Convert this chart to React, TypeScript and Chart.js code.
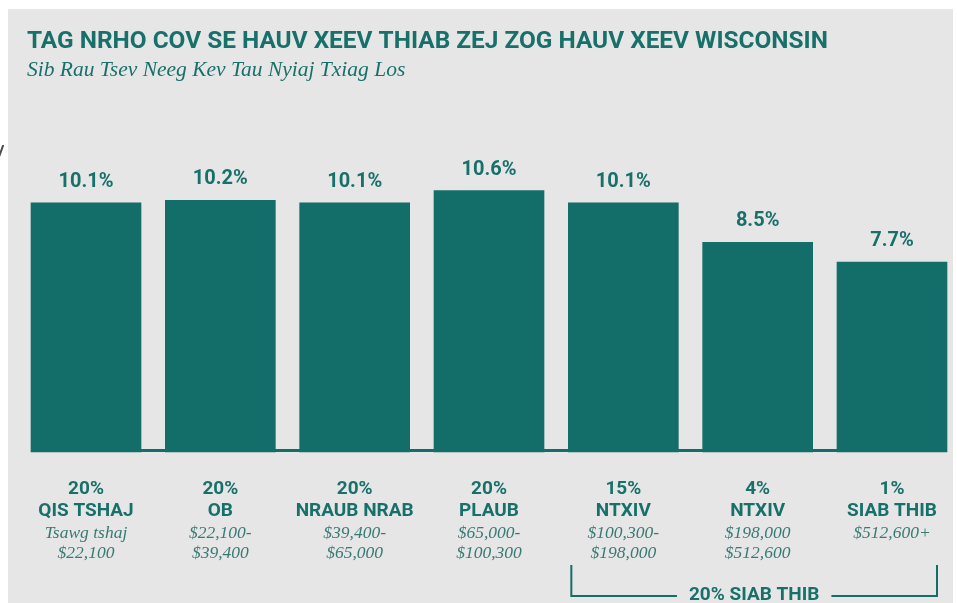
import React, { useEffect, useRef } from "react";
import { Chart, registerables } from "chart.js";

Chart.register(...registerables);

const values = [10.1, 10.2, 10.1, 10.6, 10.1, 8.5, 7.7];
const valueLabels = ["10.1%", "10.2%", "10.1%", "10.6%", "10.1%", "8.5%", "7.7%"];
const shares = ["20%", "20%", "20%", "20%", "15%", "4%", "1%"];
const groups = ["QIS TSHAJ", "OB", "NRAUB NRAB", "PLAUB", "NTXIV", "NTXIV", "SIAB THIB"];
const ranges = [
  ["Tsawg tshaj", "$22,100"],
  ["$22,100-", "$39,400"],
  ["$39,400-", "$65,000"],
  ["$65,000-", "$100,300"],
  ["$100,300-", "$198,000"],
  ["$198,000", "$512,600"],
  ["$512,600+"],
];
const titleText = "TAG NRHO COV SE HAUV XEEV THIAB ZEJ ZOG HAUV XEEV WISCONSIN";
const subtitleText = "Sib Rau Tsev Neeg Kev Tau Nyiaj Txiag Los";
const bracketText = "20% SIAB THIB";
const bracketFrom = 4;
const bracketTo = 6;

const W = 957;
const H = 603;
const BAR_W = 110;
const TEAL = "#136d68";
const TEXT_TEAL = "#17706a";
const SERIF_TEAL = "#3a7a75";
const BG = "#e6e6e6";

export default function App() {
  const ref = useRef<HTMLCanvasElement | null>(null);

  useEffect(() => {
    if (!ref.current) return;
    const deco = {
      id: "deco",
      beforeDraw(chart: any) {
        const ctx = chart.ctx;
        ctx.save();
        ctx.fillStyle = "#ffffff";
        ctx.fillRect(0, 0, W, H);
        ctx.fillStyle = BG;
        ctx.fillRect(8, 9, 945, H);
        ctx.fillStyle = "#4a4a4a";
        ctx.font = "24px 'Open Sans', sans-serif";
        ctx.textBaseline = "middle";
        ctx.textAlign = "left";
        ctx.fillText("V", -10, 155);
        ctx.fillStyle = "#ffffff";
        ctx.fillRect(4, 130, 4, 50);
        ctx.restore();
      },
      afterDatasetsDraw(chart: any) {
        const ctx = chart.ctx;
        const xs = chart.scales.x;
        const ys = chart.scales.y;
        const area = chart.chartArea;
        ctx.save();
        // baseline
        const x0 = xs.getPixelForValue(0) - BAR_W / 2;
        const x1 = xs.getPixelForValue(values.length - 1) + BAR_W / 2;
        ctx.fillStyle = TEAL;
        ctx.fillRect(x0, area.bottom - 3, x1 - x0, 3);

        // title
        ctx.textAlign = "left";
        ctx.textBaseline = "middle";
        ctx.fillStyle = TEXT_TEAL;
        ctx.font = "bold 24.4px Roboto";
        ctx.fillText(titleText, 27, 42);
        ctx.font = "italic 21.5px 'Liberation Serif'";
        ctx.fillStyle = TEXT_TEAL;
        ctx.fillText(subtitleText, 27, 70);

        // value labels
        ctx.textAlign = "center";
        ctx.font = "bold 20px Roboto";
        ctx.fillStyle = TEXT_TEAL;
        values.forEach((v, i) => {
          const x = xs.getPixelForValue(i);
          const y = ys.getPixelForValue(v);
          ctx.fillText(valueLabels[i], x, y - 21);
        });

        // category labels
        groups.forEach((g, i) => {
          const x = xs.getPixelForValue(i);
          ctx.fillStyle = TEXT_TEAL;
          ctx.font = "bold 19px Roboto";
          ctx.fillText(shares[i], x, 489);
          ctx.fillText(g, x, 511);
          ctx.fillStyle = SERIF_TEAL;
          ctx.font = "italic 17.5px 'Liberation Serif'";
          ranges[i].forEach((r, j) => {
            ctx.fillText(r, x, 533 + j * 20);
          });
        });

        // bracket
        const bl = xs.getPixelForValue(bracketFrom) - 52;
        const br = xs.getPixelForValue(bracketTo) + 45;
        const by = 596;
        const bTop = 565;
        const cx = (bl + br) / 2;
        ctx.font = "bold 19px Roboto";
        const tw = ctx.measureText(bracketText).width;
        ctx.strokeStyle = TEAL;
        ctx.lineWidth = 2;
        ctx.beginPath();
        ctx.moveTo(bl, bTop);
        ctx.lineTo(bl, by);
        ctx.lineTo(cx - tw / 2 - 12, by);
        ctx.moveTo(cx + tw / 2 + 12, by);
        ctx.lineTo(br, by);
        ctx.lineTo(br, bTop);
        ctx.stroke();
        ctx.fillStyle = TEXT_TEAL;
        ctx.fillText(bracketText, cx, 595);
        ctx.restore();
      },
    };

    const chart = new Chart(ref.current, {
      type: "bar",
      data: {
        labels: groups,
        datasets: [
          {
            data: values,
            backgroundColor: TEAL,
            barThickness: BAR_W,
            clip: false as any,
          },
        ],
      },
      options: {
        responsive: false,
        animation: false,
        devicePixelRatio: 1,
        layout: { padding: { left: 86, right: W - 892, top: 156, bottom: H - 452 } },
        plugins: { legend: { display: false }, tooltip: { enabled: false }, title: { display: false } },
        scales: {
          x: { display: false, offset: false, grid: { display: false } },
          y: { display: false, min: 0, max: 12, grid: { display: false } },
        },
      },
      plugins: [deco],
    });
    return () => chart.destroy();
  }, []);

  return (
    <div style={{ position: "fixed", left: 0, top: 0, width: W, height: H, overflow: "hidden" }}>
      <canvas ref={ref} width={W} height={H} style={{ display: "block", width: W, height: H }} />
    </div>
  );
}
